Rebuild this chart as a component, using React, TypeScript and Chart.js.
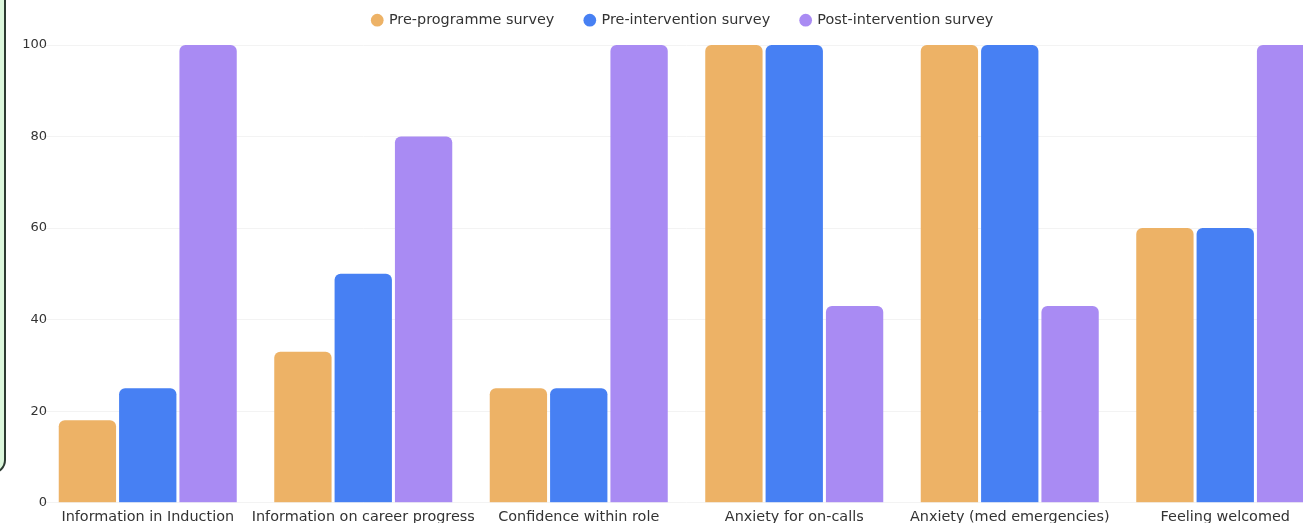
import React, { useEffect, useRef } from "react";
import { Chart, registerables } from "chart.js";

Chart.register(...registerables);

const categories = [
  "Information in Induction",
  "Information on career progress",
  "Confidence within role",
  "Anxiety for on-calls",
  "Anxiety (med emergencies)",
  "Feeling welcomed",
];
const preProgramme = [18, 33, 25, 100, 100, 60];
const preIntervention = [25, 50, 25, 100, 100, 60];
const postIntervention = [100, 80, 100, 43, 43, 100];
const yTicks = [0, 20, 40, 60, 80, 100];

const FONT = "'DejaVu Sans', sans-serif";
const Y_FONT_SIZE = 13;

export default function App() {
  const ref = useRef<HTMLCanvasElement | null>(null);

  useEffect(() => {
    if (!ref.current) return;
    const mctx = document.createElement("canvas").getContext("2d")!;
    mctx.font = `${Y_FONT_SIZE}px ${FONT}`;
    const widest = mctx.measureText("100").width;

    const legendSpacer = {
      id: "legendSpacer",
      beforeInit(chart: any) {
        const orig = chart.legend.fit;
        chart.legend.fit = function () {
          orig.call(this);
          this.height = 63;
        };
      },
    };
    const chart = new Chart(ref.current, {
      type: "bar",
      data: {
        labels: categories,
        datasets: [
          { label: "Pre-programme survey", data: preProgramme, backgroundColor: "#EDB266" },
          { label: "Pre-intervention survey", data: preIntervention, backgroundColor: "#4780F3" },
          { label: "Post-intervention survey", data: postIntervention, backgroundColor: "#A98BF3" },
        ],
      },
      plugins: [legendSpacer],
      options: {
        animation: false,
        responsive: false,
        maintainAspectRatio: false,
        layout: { padding: { left: 33, right: 7, top: -18, bottom: 8 } },
        datasets: {
          bar: {
            categoryPercentage: 0.84,
            barPercentage: 0.95,
            borderRadius: 6,
            borderSkipped: "start",
          },
        },
        plugins: {
          legend: {
            position: "top",
            labels: {
              usePointStyle: true,
              pointStyle: "circle",
              boxWidth: 9,
              boxHeight: 9,
              padding: 31,
              color: "#333",
              font: { family: FONT, size: 14.4 },
            },
          },
          tooltip: { enabled: false },
        },
        scales: {
          x: {
            grid: { display: false, drawTicks: false },
            border: { display: false },
            ticks: {
              color: "#333",
              padding: 6,
              font: { family: FONT, size: 14.4 },
              maxRotation: 0,
              autoSkip: false,
            },
          },
          y: {
            min: 0,
            max: 100,
            afterFit(scale: any) {
              scale.width = 7;
            },
            afterBuildTicks(scale: any) {
              scale.ticks = yTicks.map((v) => ({ value: v }));
            },
            grid: { color: "#f3f3f3", drawTicks: false },
            border: { display: false },
            ticks: {
              color: "#333",
              mirror: true,
              crossAlign: "far",
              padding: 7 - widest,
              font: { family: FONT, size: Y_FONT_SIZE },
            },
          },
        },
      },
    });
    return () => chart.destroy();
  }, []);

  return (
    <div
      style={{
        position: "fixed",
        left: 0,
        top: 0,
        width: 1303,
        height: 523,
        overflow: "hidden",
        background: "#fff",
      }}
    >
      <canvas
        ref={ref}
        width={1340}
        height={540}
        style={{ position: "absolute", left: 0, top: 0, width: 1340, height: 540 }}
      />
      <div
        style={{
          position: "absolute",
          left: -31,
          top: -30,
          width: 33,
          height: 500,
          border: "2px solid #2c3a31",
          borderRadius: 14,
          background: "#dcf7dc",
        }}
      />
    </div>
  );
}
